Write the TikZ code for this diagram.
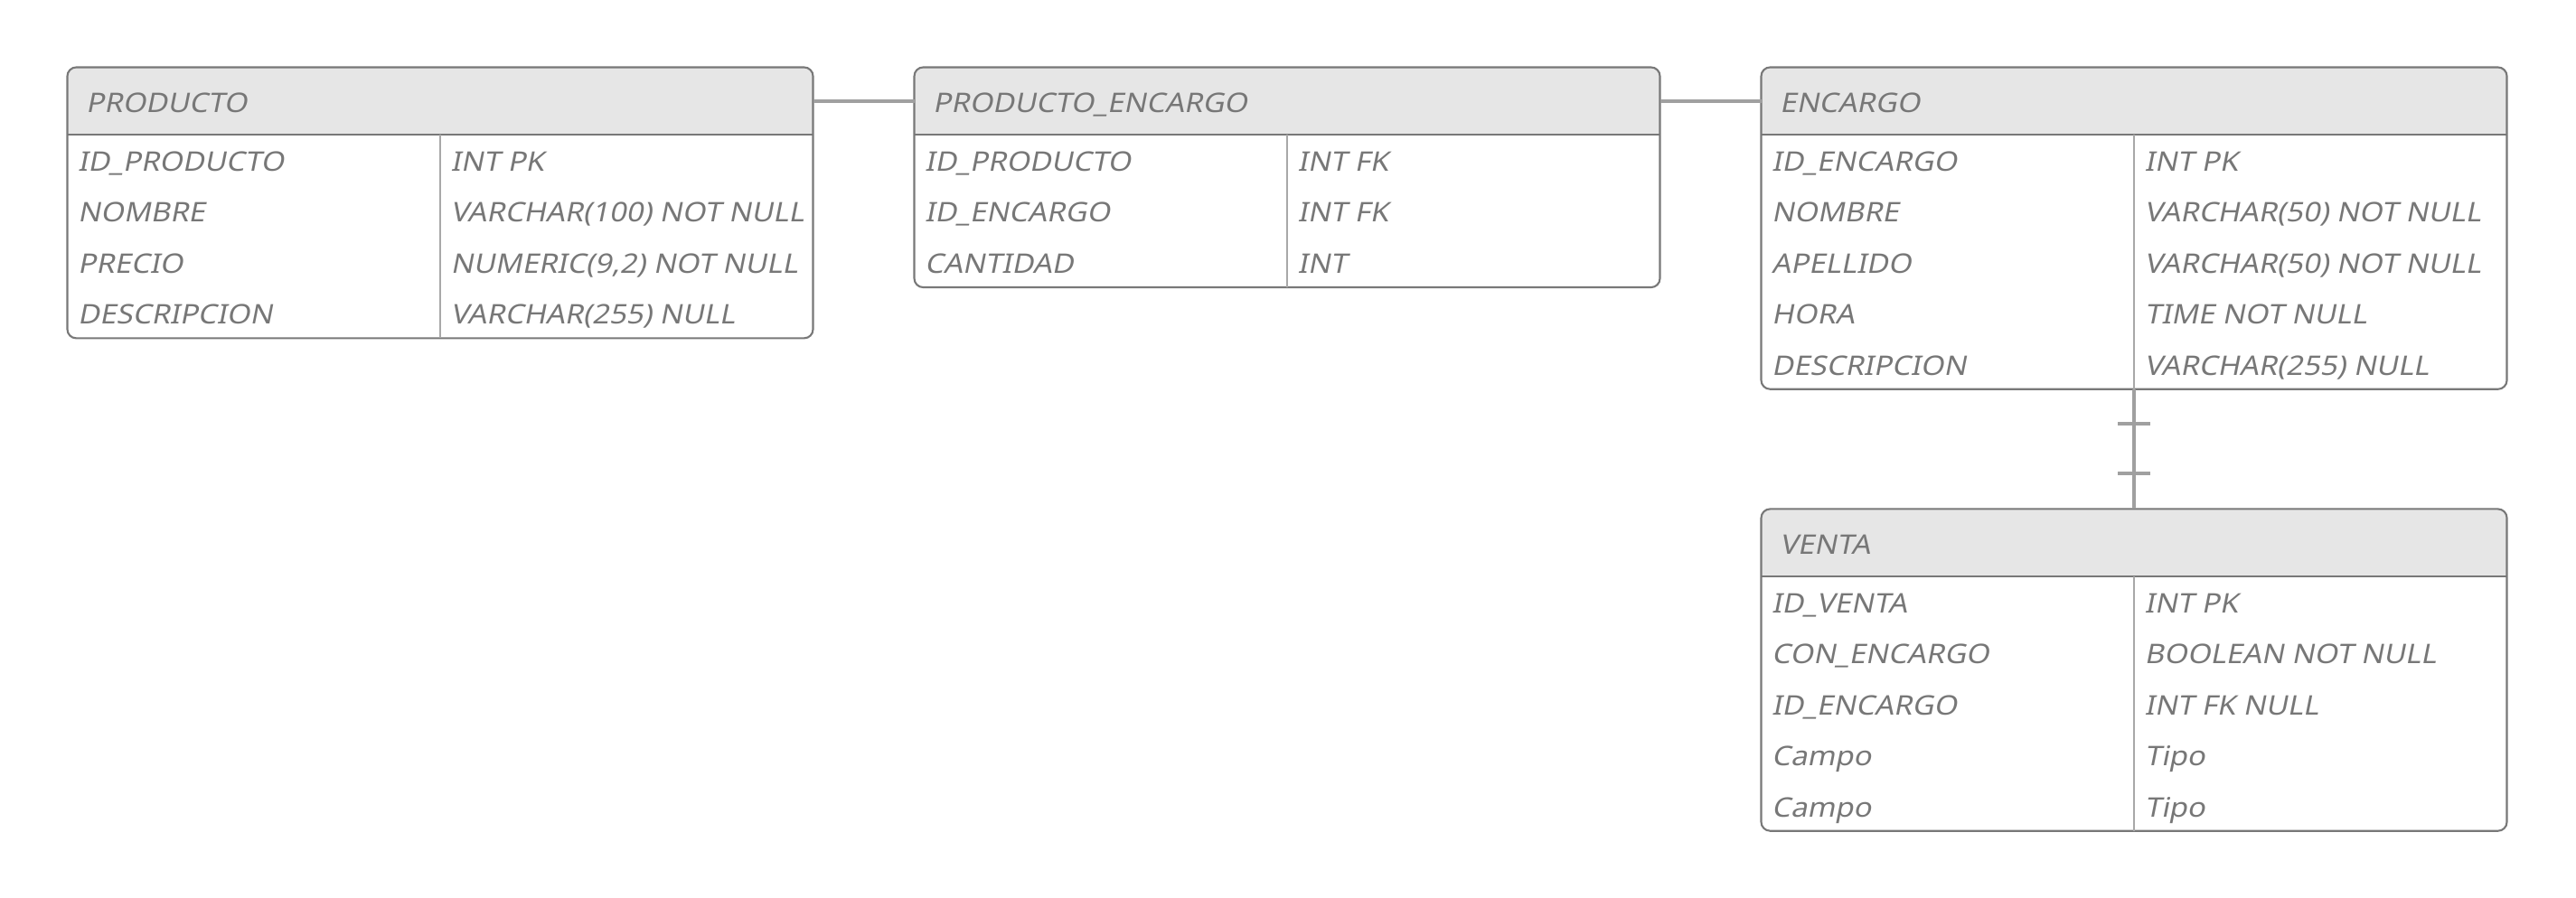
\documentclass[tikz,border=0pt]{standalone}
\usepackage{fontspec}
\setmainfont{Noto Sans}
\newfontfamily\erfont{Noto Sans}[FakeSlant=0.2, FakeStretch=1.1]
\usepackage{xcolor}
\usetikzlibrary{positioning}
\usetikzlibrary{calc}

\definecolor{edgegray}{HTML}{787878}
\definecolor{headgray}{HTML}{E6E6E6}
\definecolor{textgray}{HTML}{777777}
\definecolor{linkgray}{HTML}{A0A0A0}
\definecolor{rulegray}{HTML}{A8A8A8}

\begin{document}
\begin{tikzpicture}[
					tablehead/.style={fill=headgray, rounded corners=2.8pt, minimum width=8.25cm, minimum height=0.745cm, inner sep=0pt, outer sep=0pt},
					tablebox/.style={draw=edgegray, line width=0.6pt, rounded corners=2.8pt, minimum width=8.25cm, inner sep=0pt, outer sep=0pt, anchor=north west},
					title/.style={inner sep=0pt, text=textgray, font=\fontsize{8.5}{10}\erfont, text height=0.71em, text depth=0pt},
					field/.style={title, anchor=west},
					headline/.style={draw=edgegray, line width=0.5pt},
					colline/.style={draw=rulegray, line width=0.4pt},
					link/.style={draw=linkgray, line width=1.1pt},
					bar/.style={fill=linkgray, minimum width=0.36cm, minimum height=1.1pt, inner sep=0pt},
				]
			        \useasboundingbox (0, 0) rectangle (28.5, -9.94);

			        % PRODUCTO
			        \node[tablehead, anchor=north west] (producto-h) at (0.745, -0.745) {};
			        \fill[headgray] (producto-h.west) rectangle (producto-h.south east);
			        \node[tablebox, minimum height=2.999cm] (producto) at (producto-h.north west) {};
			        \draw[headline] (producto-h.south west) -- (producto-h.south east);
			        \draw[colline] (producto-h.south) -- (producto.south);
			        \node[title, right=0.2cm of producto-h.west] (producto-t) {PRODUCTO};
			        \foreach \f/\t [count=\i] in {ID\_PRODUCTO/INT PK, NOMBRE/VARCHAR(100) NOT NULL, PRECIO/{NUMERIC(9,2) NOT NULL}, DESCRIPCION/VARCHAR(255) NULL} {
			            \node[field] (producto-f\i) at ($(producto-h.south west)+(0.11, {-(\i-0.5)*0.5635})$) {\f};
			            \node[field] (producto-c\i) at ($(producto-h.south)+(0.11, {-(\i-0.5)*0.5635})$) {\t};
			        }

			        % PRODUCTO_ENCARGO
			        \node[tablehead, right=1.12cm of producto-h] (pe-h) {};
			        \fill[headgray] (pe-h.west) rectangle (pe-h.south east);
			        \node[tablebox, minimum height=2.4355cm] (pe) at (pe-h.north west) {};
			        \draw[headline] (pe-h.south west) -- (pe-h.south east);
			        \draw[colline] (pe-h.south) -- (pe.south);
			        \node[title, right=0.2cm of pe-h.west] (pe-t) {PRODUCTO\_ENCARGO};
			        \foreach \f/\t [count=\i] in {ID\_PRODUCTO/INT FK, ID\_ENCARGO/INT FK, CANTIDAD/INT} {
			            \node[field] (pe-f\i) at ($(pe-h.south west)+(0.11, {-(\i-0.5)*0.5635})$) {\f};
			            \node[field] (pe-c\i) at ($(pe-h.south)+(0.11, {-(\i-0.5)*0.5635})$) {\t};
			        }

			        % ENCARGO
			        \node[tablehead, right=1.12cm of pe-h] (encargo-h) {};
			        \fill[headgray] (encargo-h.west) rectangle (encargo-h.south east);
			        \node[tablebox, minimum height=3.5625cm] (encargo) at (encargo-h.north west) {};
			        \draw[headline] (encargo-h.south west) -- (encargo-h.south east);
			        \draw[colline] (encargo-h.south) -- (encargo.south);
			        \node[title, right=0.2cm of encargo-h.west] (encargo-t) {ENCARGO};
			        \foreach \f/\t [count=\i] in {ID\_ENCARGO/INT PK, NOMBRE/VARCHAR(50) NOT NULL, APELLIDO/VARCHAR(50) NOT NULL, HORA/TIME NOT NULL, DESCRIPCION/VARCHAR(255) NULL} {
			            \node[field] (encargo-f\i) at ($(encargo-h.south west)+(0.11, {-(\i-0.5)*0.5635})$) {\f};
			            \node[field] (encargo-c\i) at ($(encargo-h.south)+(0.11, {-(\i-0.5)*0.5635})$) {\t};
			        }

			        % VENTA
			        \node[tablehead, below=1.327cm of encargo] (venta-h) {};
			        \fill[headgray] (venta-h.west) rectangle (venta-h.south east);
			        \node[tablebox, minimum height=3.5625cm] (venta) at (venta-h.north west) {};
			        \draw[headline] (venta-h.south west) -- (venta-h.south east);
			        \draw[colline] (venta-h.south) -- (venta.south);
			        \node[title, right=0.2cm of venta-h.west] (venta-t) {VENTA};
			        \foreach \f/\t [count=\i] in {ID\_VENTA/INT PK, CON\_ENCARGO/BOOLEAN NOT NULL, ID\_ENCARGO/INT FK NULL, Campo/Tipo, Campo/Tipo} {
			            \node[field] (venta-f\i) at ($(venta-h.south west)+(0.11, {-(\i-0.5)*0.5635})$) {\f};
			            \node[field] (venta-c\i) at ($(venta-h.south)+(0.11, {-(\i-0.5)*0.5635})$) {\t};
			        }

			        % relations
			        \draw[link] (producto-h.east) -- (pe-h.west);
			        \draw[link] (pe-h.east) -- (encargo-h.west);
			        \draw[link] (encargo.south) -- (venta-h.north) node[bar, pos=0.29] (tick-a) {} node[bar, pos=0.7] (tick-b) {};
			    \end{tikzpicture}
\end{document}
